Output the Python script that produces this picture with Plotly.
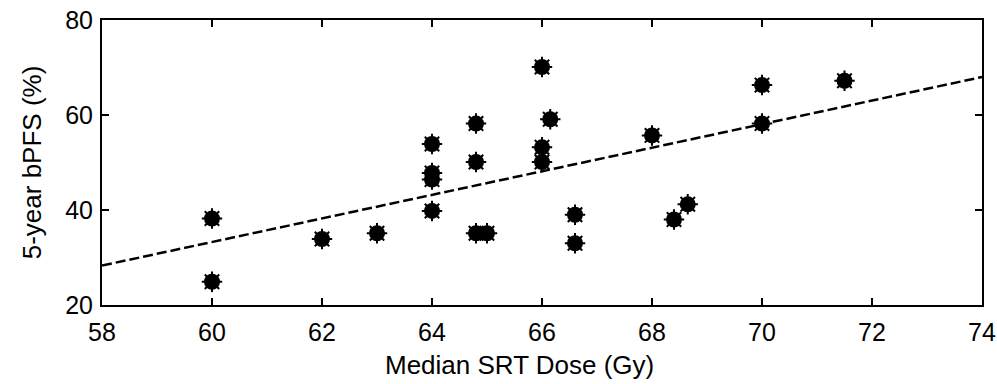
import plotly.graph_objects as go

# Data
dose = [60, 60, 62, 63, 64, 64, 64, 64, 64.8, 64.8, 64.8, 65.0,
        66, 66.15, 66, 66, 66.6, 66.6, 68, 68.4, 68.65, 70, 70, 71.5]
bpfs = [38.2, 24.9, 33.9, 35.1, 53.9, 47.8, 46.4, 39.8, 58.2, 50.1, 35.1, 35.1,
        70.1, 59.1, 53.2, 50.1, 39.0, 33.0, 55.7, 38.0, 41.2, 66.3, 58.2, 67.2]

trend_x = [58, 74]
trend_y = [28.3, 68.0]

x_ticks = [58, 60, 62, 64, 66, 68, 70, 72, 74]
y_ticks = [20, 40, 60, 80]

FONT = "Liberation Sans, Arial, sans-serif"

fig = go.Figure()
fig.add_trace(go.Scatter(
    x=trend_x, y=trend_y, mode="lines",
    line=dict(color="black", width=2.5, dash="10px,4px"),
    showlegend=False, hoverinfo="skip"))
fig.add_trace(go.Scatter(
    x=dose, y=bpfs, mode="markers",
    marker=dict(symbol="circle", size=16, color="black"),
    showlegend=False))
fig.add_trace(go.Scatter(
    x=dose, y=bpfs, mode="markers",
    marker=dict(symbol="asterisk-open", size=17, color="black",
                line=dict(color="black", width=2)),
    showlegend=False, hoverinfo="skip"))

axis_common = dict(
    showgrid=False, zeroline=False, showline=True, linecolor="black",
    linewidth=2, mirror="ticks", ticks="inside", ticklen=7, tickwidth=1.5,
    tickcolor="black", automargin=False,
    tickfont=dict(family=FONT, size=25, color="black"),
)

fig.update_layout(
    width=997, height=384,
    margin=dict(l=102, r=15, t=20, b=79),
    paper_bgcolor="white", plot_bgcolor="white",
    font=dict(family=FONT, color="black"),
    xaxis=dict(range=[58, 74], tickvals=x_ticks, ticklabelstandoff=4,
               **axis_common),
    yaxis=dict(range=[20, 80], tickvals=y_ticks, ticklabelstandoff=2,
               title=dict(text="5-year bPFS (%)", font=dict(size=26), standoff=16),
               **axis_common),
    annotations=[dict(
        text="Median SRT Dose (Gy)", xref="paper", yref="paper",
        x=0.474, y=0, yshift=-60, xanchor="center", yanchor="middle",
        showarrow=False, font=dict(family=FONT, size=26, color="black"))],
)

fig.write_html("out.html")
